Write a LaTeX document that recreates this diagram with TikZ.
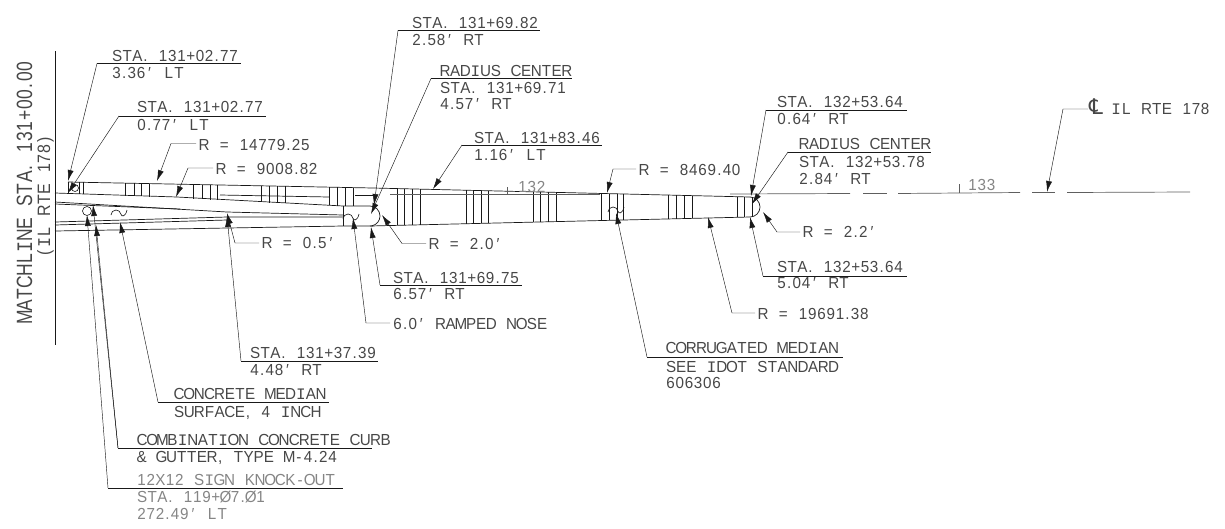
\documentclass[tikz,border=0pt]{standalone}
\usepackage{fontspec}
\setmainfont{Liberation Sans}[FakeStretch=0.95]
\newfontfamily\clfont{DejaVu Sans}
\newfontfamily\cadmono{Liberation Mono}
\usetikzlibrary{arrows.meta}
\definecolor{ink}{gray}{0.1}
\definecolor{soft}{gray}{0.28}
% CAD-style lettering: every glyph sits in its own cell of fixed width
\makeatletter
\def\cadcell#1{%
  \ifx#1.\makebox[6pt]{.}\else
  \ifx#1,\makebox[6pt]{,}\else
  \ifx#1′\makebox[8pt]{′}\else
  \ifx#1I\makebox[10.15pt]{\cadmono I}\else
  \ifnum`#1<58 \makebox[9.2pt]{#1}\else
  \makebox[10.15pt]{#1}\fi\fi\fi\fi\fi}
\def\cadloop#1{\ifx#1\relax\else\cadcell{#1}\expandafter\cadloop\fi}
\newcommand{\cad}[1]{\cadloop#1\relax}
\makeatother
\tikzset{
  x=1pt,y=-1pt,
  lab/.style={anchor=base west,inner sep=0pt,outer sep=0pt,font=\fontsize{16}{16}\selectfont,text=soft},
  faint/.style={lab,text=black!48},
  leader/.style={draw=ink,line width=0.45pt,-{Latex[length=11pt,width=6pt]}},
  under/.style={draw=ink,line width=0.6pt},
  road/.style={draw=ink,line width=0.7pt},
  stripe/.style={draw=ink,line width=0.6pt},
  cline/.style={draw=ink!70,line width=0.7pt},
  hooksym/.pic={\draw[ink,line width=0.65pt] (-5,6) arc[start angle=180,end angle=350,radius=5] .. controls (5.5,8) and (9.5,8) .. (11,1);},
}
\newcommand{\stripes}[1]{\foreach \sx in {#1}{%
  \pgfmathsetmacro{\ya}{188+(\sx-373)*9/377}%
  \pgfmathsetmacro{\yb}{226-(\sx-373)*9/377}%
  \draw[stripe] (\sx,\ya) -- (\sx,\yb);}}
\newcommand{\ustripes}[1]{\foreach \sx in {#1}{%
  \pgfmathsetmacro{\ya}{182+(\sx-68)*6/305}%
  \pgfmathsetmacro{\yb}{193+(\sx-68)*13/275}%
  \draw[stripe] (\sx,\ya) -- (\sx,\yb);}}
\begin{document}
\begin{tikzpicture}
\useasboundingbox (0,0) rectangle (1225,528);
% matchline
\coordinate (mlT) at (55,51); \coordinate (mlB) at (55,345);
\draw[line width=1pt,ink] (mlT) -- (mlB);
\node[lab,rotate=90,anchor=base] (ml1) at (32,192) {\scalebox{1.15}[1.38]{\cad{MATCHLINE~STA.~131+00.00}}};
\node[lab,rotate=90,anchor=base] (ml2) at (50,196) {\scalebox{1.05}[1.12]{\cad{(IL~RTE~178)}}};
% road outline
\draw[road] (68,182) -- (373,188) -- (750,197);
\draw[road] (370,226) -- (750,217);
\draw[road] (750,197) arc[start angle=-90,end angle=90,radius=10];
\draw[road] (55,193) -- (177,197) -- (343,206) -- (370,206) arc[start angle=-90,end angle=80,radius=10];
\draw[road] (55,202) -- (227,212) -- (343,215);
\draw[road] (55,204) -- (180,209);
\draw[road] (55,222) -- (227,217) -- (343,217);
\draw[road] (55,225) -- (227,220);
\draw[road] (55,231) -- (343,226) -- (373,226);
\draw[road] (343,206) -- (343,226);
\draw[road] (68,182) -- (68,194);
\draw[road] (355,195) -- (374,195);
\draw[road] (220,195) -- (329,197);
% stripes
\ustripes{79,83,125,134,141,149,193,202,210,217,261,269,277,285,329,337,345,353}
\stripes{397,404,412,420,466,473,481,488,533,540,548,556,601,609,617,623,668,676,684,692,737,744}
\draw[stripe] (752,197) -- (752,217);
% symbols
\draw[ink,line width=0.6pt] (87,211) circle[radius=4.5];
\draw[ink,line width=0.6pt] (75,188) circle[radius=3.5];
\pic at (116,209) {hooksym};
\pic at (348,213) {hooksym};
\pic at (613,206) {hooksym};
% centreline
\draw[cline] (390,194) -- (600,194);
\draw[cline] (730,194) -- (850,193.5);
\draw[cline] (863,193.5) -- (887,193.5);
\draw[cline] (898,193.5) -- (1020,192.5);
\draw[cline] (1032,192.5) -- (1055,192.5);
\draw[cline] (1067,192.5) -- (1190,192);
\draw[cline,line width=0.5pt] (507,187) -- (507,194);
\draw[cline,line width=0.5pt] (959,184) -- (959,193);
\node[faint] (t132) at (518,192) {\cad{132}};
\node[faint] (t133) at (968,190) {\cad{133}};
% labels with leaders
\node[lab] (a1) at (112,61) {\cad{STA.~131+02.77}};
\node[lab] (a2) at (112,78) {\cad{3.36′~LT}};
\coordinate (aS) at (97,63.5); \coordinate (aE) at (241,63.5); \coordinate (aT) at (68,181);
\draw[under] (aS) -- (aE); \draw[leader] (aS) -- (aT);
\node[lab] (b1) at (137,112) {\cad{STA.~131+02.77}};
\node[lab] (b2) at (137,130) {\cad{0.77′~LT}};
\coordinate (bS) at (119,116); \coordinate (bE) at (266,116); \coordinate (bT) at (68,193);
\draw[under] (bS) -- (bE); \draw[leader] (bS) -- (bT);
\node[lab] (c1) at (199,150) {\cad{R~=~14779.25}};
\coordinate (cK) at (171,143.5); \coordinate (cT) at (157,181);
\draw[leader] ([xshift=-3pt]c1.west |- cK) -- (cK) -- (cT);
\node[lab] (d1) at (216,174) {\cad{R~=~9008.82}};
\coordinate (dK) at (188,168); \coordinate (dT) at (176,197);
\draw[leader] ([xshift=-3pt]d1.west |- dK) -- (dK) -- (dT);
\node[lab] (e1) at (412,28) {\cad{STA.~131+69.82}};
\node[lab] (e2) at (412,45) {\cad{2.58′~RT}};
\coordinate (eS) at (398,30.5); \coordinate (eE) at (540,30.5); \coordinate (eT) at (374,205);
\draw[under] (eS) -- (eE); \draw[leader] (eS) -- (eT);
\node[lab] (f1) at (440,76) {\cad{RADIUS~CENTER}};
\node[lab] (f2) at (440,93) {\cad{STA.~131+69.71}};
\node[lab] (f3) at (440,109) {\cad{4.57′~RT}};
\coordinate (fS) at (431,78.5); \coordinate (fE) at (572,78.5); \coordinate (fT) at (371,214);
\draw[under] (fS) -- (fE); \draw[leader] (fS) -- (fT);
\node[lab] (g1) at (474,143) {\cad{STA.~131+83.46}};
\node[lab] (g2) at (474,160) {\cad{1.16′~LT}};
\coordinate (gS) at (462,145); \coordinate (gE) at (602,145); \coordinate (gT) at (433,189);
\draw[under] (gS) -- (gE); \draw[leader] (gS) -- (gT);
\node[lab] (h1) at (639,175) {\cad{R~=~8469.40}};
\coordinate (hK) at (613,169); \coordinate (hT) at (607,193);
\draw[leader] ([xshift=-3pt]h1.west |- hK) -- (hK) -- (hT);
\node[lab] (i1) at (429,249) {\cad{R~=~2.0′}};
\coordinate (iK) at (402,243.5); \coordinate (iT) at (382,215);
\draw[leader] ([xshift=-3pt]i1.west |- iK) -- (iK) -- (iT);
\node[lab] (j1) at (393,283) {\cad{STA.~131+69.75}};
\node[lab] (j2) at (393,299) {\cad{6.57′~RT}};
\coordinate (jS) at (380,285); \coordinate (jE) at (522,285); \coordinate (jT) at (371,227);
\draw[under] (jS) -- (jE); \draw[leader] (jS) -- (jT);
\node[lab] (k1) at (777,107) {\cad{STA.~132+53.64}};
\node[lab] (k2) at (777,124) {\cad{0.64′~RT}};
\coordinate (kS) at (766,110); \coordinate (kE) at (907,110); \coordinate (kT) at (751,196);
\draw[under] (kS) -- (kE); \draw[leader] (kS) -- (kT);
\node[lab] (l1) at (799,149) {\cad{RADIUS~CENTER}};
\node[lab] (l2) at (799,167) {\cad{STA.~132+53.78}};
\node[lab] (l3) at (799,184) {\cad{2.84′~RT}};
\coordinate (lS) at (788,152); \coordinate (lE) at (931,152); \coordinate (lT) at (752,204);
\draw[under] (lS) -- (lE); \draw[leader] (lS) -- (lT);
\node[lab] (m1) at (803,237) {\cad{R~=~2.2′}};
\coordinate (mK) at (777,232); \coordinate (mT) at (763,212);
\draw[leader] ([xshift=-3pt]m1.west |- mK) -- (mK) -- (mT);
\node[lab] (n1) at (777,272) {\cad{STA.~132+53.64}};
\node[lab] (n2) at (777,288) {\cad{5.04′~RT}};
\coordinate (nS) at (763,276); \coordinate (nE) at (907,276); \coordinate (nT) at (750,217);
\draw[under] (nS) -- (nE); \draw[leader] (nS) -- (nT);
\node[lab] (o1) at (758,319) {\cad{R~=~19691.38}};
\coordinate (oK) at (732,313); \coordinate (oT) at (708,217);
\draw[leader] ([xshift=-3pt]o1.west |- oK) -- (oK) -- (oT);
\node[lab] (p1) at (1091,114) {\makebox[10pt]{\scalebox{1.35}{\clfont\symbol{"2104}}}\cad{~IL~RTE~178}};
\coordinate (pK) at (1063,109); \coordinate (pT) at (1047,192);
\draw[leader] ([xshift=-3pt]p1.west |- pK) -- (pK) -- (pT);
\node[lab] (q1) at (666,353) {\cad{CORRUGATED~MEDIAN}};
\node[lab] (q2) at (666,372) {\cad{SEE~IDOT~STANDARD}};
\node[lab] (q3) at (666,388) {\cad{606306}};
\coordinate (qS) at (647,357); \coordinate (qE) at (843,357); \coordinate (qT) at (616,213);
\draw[under] (qS) -- (qE); \draw[leader] (qS) -- (qT);
\node[lab] (r1) at (393,329) {\cad{6.0′~RAMPED~NOSE}};
\coordinate (rK) at (366,323); \coordinate (rT) at (353,218);
\draw[leader] ([xshift=-3pt]r1.west |- rK) -- (rK) -- (rT);
\node[lab] (s1) at (262,248) {\cad{R~=~0.5′}};
\coordinate (sK) at (235,243); \coordinate (sT) at (227,213);
\draw[leader] ([xshift=-3pt]s1.west |- sK) -- (sK) -- (sT);
\node[lab] (t1) at (250,358) {\cad{STA.~131+37.39}};
\node[lab] (t2) at (250,375) {\cad{4.48′~RT}};
\coordinate (tS) at (241,361); \coordinate (tE) at (378,361); \coordinate (tT) at (227,216);
\draw[under] (tS) -- (tE); \draw[leader] (tS) -- (tT);
\node[lab] (u1) at (174,399) {\cad{CONCRETE~MEDIAN}};
\node[lab] (u2) at (174,417) {\cad{SURFACE,~4~INCH}};
\coordinate (uS) at (158,402); \coordinate (uE) at (329,402); \coordinate (uT) at (120,222);
\draw[under] (uS) -- (uE); \draw[leader] (uS) -- (uT);
\node[lab] (v1) at (137,445) {\cad{COMBINATION~CONCRETE~CURB}};
\node[lab] (v2) at (137,462) {\cad{\&~GUTTER,~TYPE~M-4.24}};
\coordinate (vS) at (118,448); \coordinate (vE) at (372,448); \coordinate (vT) at (93,205); \coordinate (vM) at (96,225);
\draw[under] (vS) -- (vE); \draw[leader] (vS) -- (vT); \draw[leader] (vS) -- (vM);
\node[faint] (w1) at (137,485) {\cad{12X12~SIGN~KNOCK-OUT}};
\node[faint] (w2) at (137,502) {\cad{STA.~119+Ø7.Ø1}};
\node[faint] (w3) at (137,519) {\cad{272.49′~LT}};
\coordinate (wS) at (108,488); \coordinate (wE) at (343,488); \coordinate (wT) at (87,215);
\draw[under] (wS) -- (wE); \draw[leader] (wS) -- (wT);
\end{tikzpicture}
\end{document}
